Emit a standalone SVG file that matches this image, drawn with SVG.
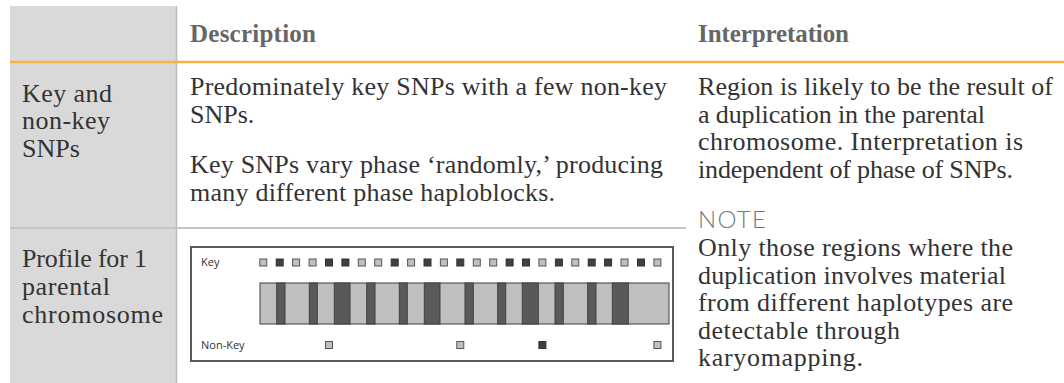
<svg xmlns="http://www.w3.org/2000/svg" width="1064" height="383" viewBox="0 0 1064 383">
<style>
.body{font-family:"Liberation Serif","Times New Roman",serif;font-size:26px;fill:#333}
.head{font-family:"Liberation Serif","Times New Roman",serif;font-size:25px;font-weight:bold;fill:#666}
.note{font-family:Lato,"Open Sans","Liberation Sans",sans-serif;font-weight:300;font-size:24px;fill:#777}
.lab{font-family:"Open Sans","Liberation Sans",sans-serif;font-size:11px;fill:#333}
.kl{fill:#bfbfbf;stroke:#555;stroke-width:1}
.kd{fill:#404040;stroke:#333;stroke-width:1}
.band{fill:#595959;stroke:#404040;stroke-width:1}
</style>
<rect width="1064" height="383" fill="#fff"/>
<g id="grid">
<rect x="10" y="6" width="166" height="377" fill="#d9d9d9"/>
<line x1="176.5" y1="6" x2="176.5" y2="383" stroke="#bdbdbd" stroke-width="1.5"/>
<line x1="10" y1="228" x2="686" y2="228" stroke="#c4c4c4" stroke-width="2"/>
<line x1="10" y1="62" x2="1064" y2="62" stroke="#fbb040" stroke-width="2.5"/>
</g>
<g id="header">
<text class="head" x="190" y="42" textLength="126">Description</text>
<text class="head" x="698" y="42" textLength="151">Interpretation</text>
</g>
<g id="row1-label">
<text class="body" x="22" y="101.5" textLength="90">Key and</text>
<text class="body" x="22" y="129" textLength="88">non-key</text>
<text class="body" x="22" y="156.5">SNPs</text>
</g>
<g id="row1-description">
<text class="body" x="190" y="95" textLength="477">Predominately key SNPs with a few non-key</text>
<text class="body" x="190" y="122.5">SNPs.</text>
<text class="body" x="190" y="173" textLength="473">Key SNPs vary phase ‘randomly,’ producing</text>
<text class="body" x="190" y="200.5" textLength="365">many different phase haploblocks.</text>
</g>
<g id="interpretation">
<text class="body" x="698" y="95" textLength="355">Region is likely to be the result of</text>
<text class="body" x="698" y="122.5" textLength="287">a duplication in the parental</text>
<text class="body" x="698" y="150" textLength="325">chromosome. Interpretation is</text>
<text class="body" x="698" y="177.5" textLength="315">independent of phase of SNPs.</text>
<text class="note" x="698" y="228" textLength="68">NOTE</text>
<text class="body" x="698" y="256" textLength="315">Only those regions where the</text>
<text class="body" x="698" y="283.5" textLength="308">duplication involves material</text>
<text class="body" x="698" y="311" textLength="315">from different haplotypes are</text>
<text class="body" x="698" y="338.5" textLength="202">detectable through</text>
<text class="body" x="698" y="366" textLength="165">karyomapping.</text>
</g>
<g id="row2-label">
<text class="body" x="22" y="267" textLength="125">Profile for 1</text>
<text class="body" x="22" y="295" textLength="88">parental</text>
<text class="body" x="22" y="323" textLength="141">chromosome</text>
</g>
<g id="profile-chart">
<rect x="191" y="247" width="482" height="114" fill="#fff" stroke="#595959" stroke-width="2"/>
<text class="lab" x="201" y="266">Key</text>
<text class="lab" x="201" y="349">Non-Key</text>
<g id="key-snps">
<rect class="kl" x="259.8" y="259" width="7" height="7"/>
<rect class="kd" x="276.2" y="259" width="7" height="7"/>
<rect class="kl" x="292.6" y="259" width="7" height="7"/>
<rect class="kl" x="309.1" y="259" width="7" height="7"/>
<rect class="kd" x="325.5" y="259" width="7" height="7"/>
<rect class="kd" x="341.9" y="259" width="7" height="7"/>
<rect class="kl" x="358.3" y="259" width="7" height="7"/>
<rect class="kl" x="374.7" y="259" width="7" height="7"/>
<rect class="kd" x="391.2" y="259" width="7" height="7"/>
<rect class="kl" x="407.6" y="259" width="7" height="7"/>
<rect class="kd" x="424.0" y="259" width="7" height="7"/>
<rect class="kl" x="440.4" y="259" width="7" height="7"/>
<rect class="kd" x="456.8" y="259" width="7" height="7"/>
<rect class="kl" x="473.3" y="259" width="7" height="7"/>
<rect class="kl" x="489.7" y="259" width="7" height="7"/>
<rect class="kd" x="506.1" y="259" width="7" height="7"/>
<rect class="kd" x="522.5" y="259" width="7" height="7"/>
<rect class="kl" x="538.9" y="259" width="7" height="7"/>
<rect class="kd" x="555.4" y="259" width="7" height="7"/>
<rect class="kl" x="571.8" y="259" width="7" height="7"/>
<rect class="kd" x="588.2" y="259" width="7" height="7"/>
<rect class="kd" x="604.6" y="259" width="7" height="7"/>
<rect class="kl" x="621.0" y="259" width="7" height="7"/>
<rect class="kd" x="637.5" y="259" width="7" height="7"/>
<rect class="kl" x="653.9" y="259" width="7" height="7"/>
</g>
<g id="chromosome-bar">
<rect x="260" y="283" width="409" height="41" fill="#bfbfbf" stroke="#404040" stroke-width="1"/>
<rect class="band" x="276.7" y="283" width="8.3" height="41"/>
<rect class="band" x="309.3" y="283" width="8" height="41"/>
<rect class="band" x="334.3" y="283" width="15.7" height="41"/>
<rect class="band" x="366.7" y="283" width="8.3" height="41"/>
<rect class="band" x="399.3" y="283" width="8" height="41"/>
<rect class="band" x="424.3" y="283" width="15.7" height="41"/>
<rect class="band" x="465" y="283" width="8.3" height="41"/>
<rect class="band" x="497.7" y="283" width="8" height="41"/>
<rect class="band" x="522.3" y="283" width="16" height="41"/>
<rect class="band" x="555" y="283" width="8.3" height="41"/>
<rect class="band" x="587.7" y="283" width="8.3" height="41"/>
<rect class="band" x="612.3" y="283" width="16" height="41"/>
</g>
<g id="nonkey-snps">
<rect class="kl" x="325.5" y="341.5" width="7" height="7"/>
<rect class="kl" x="456.8" y="341.5" width="7" height="7"/>
<rect class="kd" x="538.9" y="341.5" width="7" height="7"/>
<rect class="kl" x="653.9" y="341.5" width="7" height="7"/>
</g>
</g>
</svg>
